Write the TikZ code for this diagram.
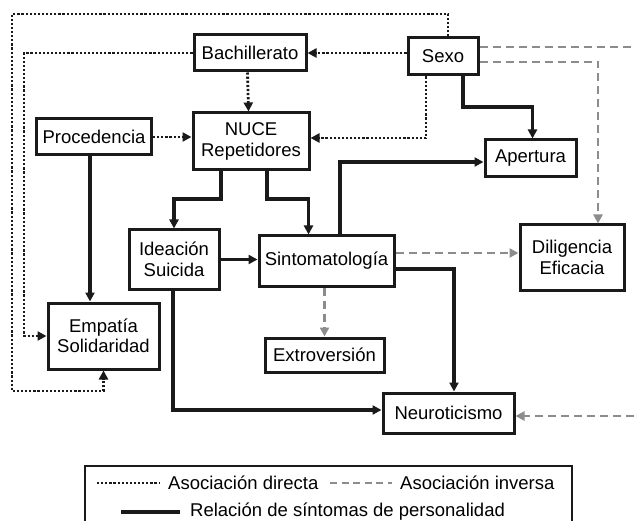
\documentclass[tikz,border=0pt]{standalone}
\usepackage{fontspec}
\setmainfont{Liberation Sans}
\usetikzlibrary{arrows.meta}
\definecolor{lineblack}{HTML}{1A1A1A}
\definecolor{invgray}{HTML}{8C8C8C}
\tikzset{
  box/.style={draw=lineblack, line width=3pt, align=center, inner sep=0pt,
    font=\fontsize{18.5}{20.5}\selectfont},
  tip/.style={-{Triangle[length=9pt,width=9pt]}},
  directa/.style={lineblack, line width=2.8pt, dash pattern=on 2.2pt off 1.9pt},
  inversa/.style={invgray, line width=2.8pt, dash pattern=on 8pt off 5pt},
  sintoma/.style={lineblack, line width=3.4pt},
  leyenda/.style={anchor=west, inner sep=0pt, font=\fontsize{18.5}{20.5}\selectfont},
}
\begin{document}
\begin{tikzpicture}[x=1pt,y=-1pt]
  \useasboundingbox (0,0) rectangle (634,521);

  % variables
  \node[box, minimum width=112pt, minimum height=36pt] (bach) at (250,53) {Bachillerato};
  \node[box, minimum width=70pt, minimum height=37pt] (sexo) at (443,56.5) {Sexo};
  \node[box, minimum width=115pt, minimum height=36pt] (proc) at (94,137) {Procedencia};
  \node[box, minimum width=116pt, minimum height=57pt] (nuce) at (251,141.5) {NUCE\\Repetidores};
  \node[box, minimum width=91pt, minimum height=37pt] (ape) at (530.5,158.5) {Apertura};
  \node[box, minimum width=90pt, minimum height=59pt] (ide) at (174,259.5) {Ideación\\Suicida};
  \node[box, minimum width=135pt, minimum height=50pt] (sint) at (326.5,261) {Sintomatología};
  \node[box, minimum width=104pt, minimum height=65pt] (dil) at (572,257.5) {Diligencia\\Eficacia};
  \node[box, minimum width=111pt, minimum height=66pt] (emp) at (103.5,336) {Empatía\\Solidaridad};
  \node[box, minimum width=119pt, minimum height=34pt] (ext) at (324.5,355) {Extroversión};
  \node[box, minimum width=131pt, minimum height=40pt] (neu) at (448.5,413) {Neuroticismo};

  % turning points
  \coordinate (lo1) at (12,14);
  \coordinate (lo2) at (12,391);
  \coordinate (lb) at (24,53);
  \coordinate (k1) at (426,138);
  \coordinate (k2) at (463,107);
  \coordinate (k3) at (598,62);
  \coordinate (r1) at (634,47);
  \coordinate (k4) at (221,199);
  \coordinate (k5) at (267,199);
  \coordinate (k6) at (340,162);
  \coordinate (k7) at (454,269);
  \coordinate (k8) at (173,410);
  \coordinate (k9) at (394,253);
  \coordinate (r2) at (634,416);

  % asociacion directa
  \draw[directa, tip] ([xshift=5pt]sexo.north) |- (lo1) -- (lo2) -| (emp.south);
  \draw[directa, tip] (bach.west) -- (lb) |- (emp.west);
  \draw[directa, tip] (sexo.west |- bach) -- (bach.east);
  \draw[directa, tip] ([xshift=-2.5pt]bach.south) -- ([xshift=-2.5pt]nuce.north);
  \draw[directa, tip] (proc.east) -- (nuce.west |- proc);
  \draw[directa, tip] (sexo.south -| k1) -- (k1) -- (nuce.east |- k1);

  % asociacion inversa
  \draw[inversa] (sexo.east |- r1) -- (r1);
  \draw[inversa, tip] (sexo.east |- k3) -- (k3) -- (dil.north -| k3);
  \draw[inversa, tip] (sint.east |- k9) -- (dil.west |- k9);
  \draw[inversa, tip] (sint.south -| ext.north) -- (ext.north);
  \draw[inversa, tip] (r2) -- (neu.east |- r2);

  % sintomas de personalidad
  \draw[sintoma, tip] (sexo.south -| k2) -- (k2) -| ([xshift=2pt]ape.north);
  \draw[sintoma, tip] ([xshift=-4pt]proc.south) -- ([xshift=-4pt]proc.south |- emp.north);
  \draw[sintoma, tip] (nuce.south -| k4) -- (k4) -| (ide.north);
  \draw[sintoma, tip] (nuce.south -| k5) -- (k5) -| ([xshift=-18pt]sint.north);
  \draw[sintoma, tip] (sint.north -| k6) -- (k6) -- (ape.west |- k6);
  \draw[sintoma, tip] (ide.east) -- (sint.west |- ide.east);
  \draw[sintoma, tip] (sint.east |- k7) -- (k7) -- (neu.north -| k7);
  \draw[sintoma, tip] (ide.south -| k8) -- (k8) -- (neu.west |- k8);

  % leyenda
  \draw[lineblack, line width=1.8pt] (85,521) |- (572,466) -- (572,521);
  \coordinate (ld1) at (97,483);
  \coordinate (ld2) at (160,483);
  \coordinate (li1) at (330,483);
  \coordinate (li2) at (392,483);
  \coordinate (lr1) at (121,512);
  \coordinate (lr2) at (180,512);
  \draw[directa] (ld1) -- (ld2);
  \draw[inversa, dash pattern=on 7pt off 4.5pt] (li1) -- (li2);
  \draw[sintoma] (lr1) -- (lr2);
  \node[leyenda] (ldir) at (168,483) {Asociación directa};
  \node[leyenda] (linv) at (400,483) {Asociación inversa};
  \node[leyenda] (lrel) at (190,512) {Relación de síntomas de personalidad};
\end{tikzpicture}
\end{document}
